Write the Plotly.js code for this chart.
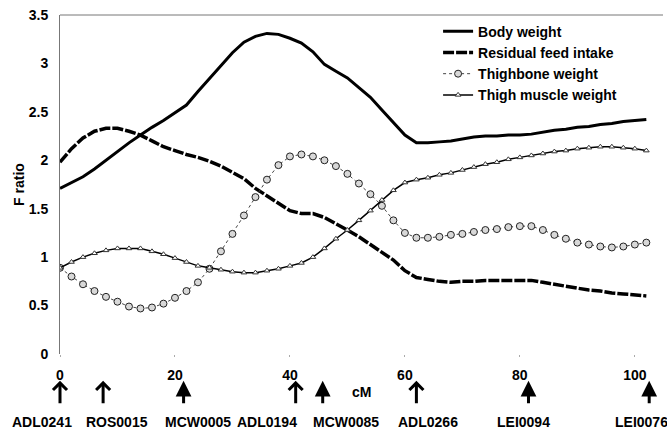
<!DOCTYPE html>
<html>
<head>
<meta charset="utf-8">
<script src="https://cdn.plot.ly/plotly-3.0.1.min.js"></script>
<style>html,body{margin:0;padding:0;background:#fff;}#chart{width:667px;height:430px;}</style>
</head>
<body>
<div id="chart"></div>
<script>
// Position along the chromosome (cM)
const cM = [0,2,4,6,8,10,12,14,16,18,20,22,24,26,28,30,32,34,36,38,40,42,44,46,48,50,52,54,56,58,60,62,64,66,68,70,72,74,76,78,80,82,84,86,88,90,92,94,96,98,100,102];

const bodyWeight = [1.71,1.77,1.83,1.91,2.00,2.09,2.18,2.26,2.34,2.41,2.49,2.57,2.71,2.84,2.98,3.11,3.22,3.28,3.31,3.30,3.26,3.21,3.12,2.99,2.92,2.85,2.75,2.65,2.52,2.39,2.26,2.18,2.18,2.19,2.20,2.22,2.24,2.25,2.25,2.26,2.26,2.27,2.29,2.31,2.32,2.34,2.35,2.37,2.38,2.40,2.41,2.42];

const residualFeedIntake = [1.98,2.12,2.23,2.30,2.33,2.33,2.30,2.26,2.20,2.14,2.10,2.06,2.03,1.99,1.94,1.88,1.81,1.71,1.63,1.55,1.48,1.45,1.45,1.41,1.35,1.28,1.21,1.13,1.06,0.97,0.86,0.79,0.77,0.75,0.74,0.75,0.75,0.76,0.76,0.76,0.76,0.76,0.74,0.72,0.70,0.68,0.66,0.65,0.63,0.62,0.61,0.60];

const thighboneWeight = [0.89,0.80,0.72,0.65,0.59,0.54,0.49,0.47,0.48,0.52,0.58,0.65,0.74,0.88,1.06,1.24,1.43,1.62,1.80,1.95,2.04,2.06,2.04,2.00,1.94,1.86,1.76,1.65,1.53,1.38,1.25,1.20,1.20,1.21,1.23,1.24,1.26,1.28,1.29,1.31,1.32,1.32,1.28,1.23,1.19,1.15,1.13,1.11,1.10,1.11,1.13,1.15];

const thighMuscleWeight = [0.89,0.95,1.00,1.04,1.07,1.09,1.09,1.09,1.06,1.03,0.99,0.95,0.91,0.89,0.87,0.85,0.84,0.84,0.86,0.88,0.91,0.94,1.00,1.09,1.19,1.28,1.38,1.48,1.59,1.69,1.77,1.80,1.82,1.85,1.87,1.90,1.93,1.96,1.98,2.01,2.03,2.05,2.07,2.09,2.10,2.12,2.13,2.14,2.14,2.13,2.12,2.10];

const seriesNames = ["Body weight","Residual feed intake","Thighbone weight","Thigh muscle weight"];

// Microsatellite markers
const markerNames = ["ADL0241","ROS0015","MCW0005","ADL0194","MCW0085","ADL0266","LEI0094","LEI0076"];
const markerPos = [0,7.5,21.5,41,45.7,62,81.5,102.5];
const markerOpen = [true,true,false,true,false,true,false,false];
const markerLabelPaperX = [-0.030,0.095,0.229,0.343,0.475,0.610,0.769,0.964];

const xTicks = [0,20,40,60,80,100];

const FONT = "Liberation Sans, Arial, sans-serif";

const traces = [
  {x:cM, y:bodyWeight, name:seriesNames[0], type:"scatter", mode:"lines",
   line:{color:"#000", width:3}},
  {x:cM, y:residualFeedIntake, name:seriesNames[1], type:"scatter", mode:"lines",
   line:{color:"#000", width:3.5, dash:"11px,2px"}},
  {x:cM, y:thighboneWeight, name:seriesNames[2], type:"scatter", mode:"lines+markers",
   line:{color:"#444", width:1, dash:"dot"},
   marker:{symbol:"circle", size:7, color:"#d8d8d8", line:{color:"#222", width:1}}},
  {x:cM, y:thighMuscleWeight, name:seriesNames[3], type:"scatter", mode:"lines+markers",
   line:{color:"#000", width:1.5},
   marker:{symbol:"triangle-up", size:5, color:"#fff", line:{color:"#333", width:1}}}
];

const annotations = [];
markerPos.forEach((p, i) => {
  annotations.push({
    x:p, xref:"x", y:-0.079, yref:"paper", text:"", showarrow:true,
    ax:0, ay:24, arrowcolor:"#000", arrowwidth:3,
    arrowhead: markerOpen[i] ? 4 : 2,
    arrowsize: markerOpen[i] ? 0.9 : 1.05
  });
  annotations.push({
    x:markerLabelPaperX[i], xref:"paper", y:-0.20, yref:"paper",
    text:markerNames[i], showarrow:false, xanchor:"center", yanchor:"middle",
    font:{family:FONT, size:14, color:"#000", weight:"bold"}
  });
});
annotations.push({
  x:52.5, xref:"x", y:-0.112, yref:"paper", text:"cM", showarrow:false,
  xanchor:"center", yanchor:"middle",
  font:{family:FONT, size:14, color:"#000", weight:"bold"}
});

const layout = {
  width:667, height:430,
  margin:{l:60, r:4, t:15, b:76},
  paper_bgcolor:"#fff", plot_bgcolor:"#fff",
  font:{family:FONT, size:14, color:"#000", weight:"bold"},
  showlegend:true,
  legend:{x:0.627, y:0.998, xanchor:"left", yanchor:"top", bgcolor:"rgba(0,0,0,0)",
          font:{family:FONT, size:14, color:"#000", weight:"bold"}, tracegroupgap:0},
  xaxis:{range:[0,104.9], showgrid:false, zeroline:false, showline:false,
         tickvals:xTicks, ticktext:xTicks.map(String), ticks:"outside", ticklen:2,
         tickcolor:"#aaa", ticklabelstandoff:6,
         tickfont:{family:FONT, size:14, color:"#000", weight:"bold"}},
  yaxis:{range:[0,3.5], dtick:0.5, showgrid:false, zeroline:false, showline:true,
         linecolor:"#777", linewidth:1, ticks:"", ticklabelstandoff:8,
         tickfont:{family:FONT, size:14, color:"#000", weight:"bold"},
         title:{text:"F ratio", standoff:0, font:{family:FONT, size:14, color:"#000", weight:"bold"}}},
  shapes:[{type:"line", xref:"paper", yref:"paper", x0:0, x1:1, y0:1, y1:1,
           line:{color:"#777", width:1}}],
  annotations:annotations
};

Plotly.newPlot("chart", traces, layout, {displayModeBar:false, staticPlot:true});
</script>
</body>
</html>
